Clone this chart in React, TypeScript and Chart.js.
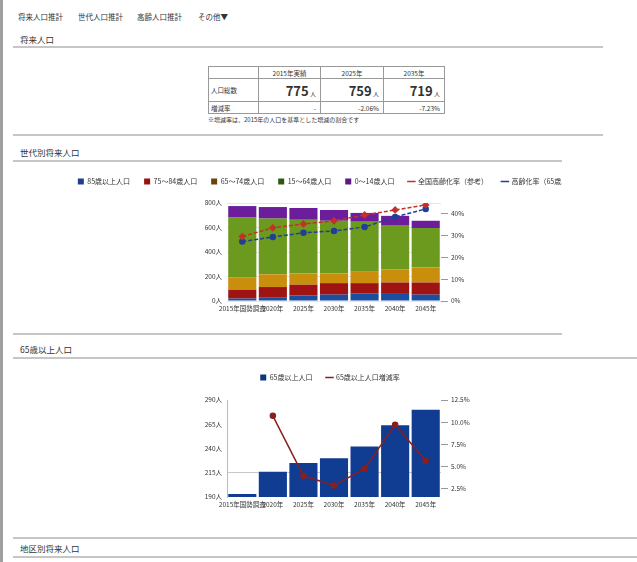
import React, { useEffect, useRef } from "react";
import { Chart, registerables } from "chart.js";

Chart.register(...registerables);

const FONT = "'Noto Sans CJK JP', 'Noto Sans', sans-serif";

const NAV_ITEMS = ["将来人口推計", "世代人口推計", "高齢人口推計", "その他▼"];
const SECTION_TITLES = ["将来人口", "世代別将来人口", "65歳以上人口", "地区別将来人口"];

const TABLE_HEADERS = ["2015年実績", "2025年", "2035年"];
const TABLE_POPULATION = [775, 759, 719];
const TABLE_RATES = ["-", "-2.06%", "-7.23%"];
const TABLE_NOTE = "※増減率は、2015年の人口を基準とした増減の割合です";

const YEARS = ["2015年国勢調査", "2020年", "2025年", "2030年", "2035年", "2040年", "2045年"];
const AGE_85_PLUS = [20, 31, 44, 52, 60, 58, 52];
const AGE_75_84 = [72, 83, 89, 94, 86, 93, 99];
const AGE_65_74 = [102, 104, 93, 80, 93, 108, 124];
const AGE_15_64 = [487, 455, 437, 429, 408, 361, 321];
const AGE_0_14 = [94, 94, 96, 88, 72, 75, 59];
const AGING_RATE_REF = [29.6, 33.6, 35.4, 36.8, 39.5, 41.8, 44.1];
const AGING_RATE = [27.3, 29.4, 31.3, 32.2, 34.0, 38.6, 42.3];
const POP_TICKS = [0, 200, 400, 600, 800];
const RATE_TICKS = [0, 10, 20, 30, 40];
const RATE_MAX = 45;

const ELDERLY = [193, 216, 225, 230, 242, 264, 280];
const ELDERLY_RATE = [null, 10.7, 3.9, 2.8, 4.7, 9.7, 5.6];
const ELDERLY_TICKS = [190, 215, 240, 265, 290];
const ELDERLY_RATE_TICKS = [2.5, 5, 7.5, 10, 12.5];
const ELDERLY_RATE_MIN = 1.5;

const BAR_COLORS = ["#1c4ea0", "#a01313", "#c98e0c", "#6b9a1e", "#6c1d9b"];
const LEGEND_COLORS = ["#1e3f8f", "#9a1010", "#6a430c", "#2d5a10", "#5a1a88"];

const CANVAS_LEFT = 30;
const CANVAS_W = 600;
const PLOT_LEFT = 227;
const PLOT_RIGHT = 441;

function legendLabels(legendColors: string[]) {
  return {
    usePointStyle: true,
    boxWidth: 6,
    boxHeight: 6,
    padding: 14,
    color: "#333",
    font: { family: FONT, size: 7 },
    sort: (a: any, b: any) => a.datasetIndex - b.datasetIndex,
    generateLabels: (chart: any) => {
      const base = (Chart.defaults as any).plugins.legend.labels.generateLabels(chart);
      return base.map((item: any) => {
        const ds = chart.data.datasets[item.datasetIndex];
        if (ds.type === "line") {
          item.pointStyle = "line";
          item.strokeStyle = ds.borderColor;
          item.lineWidth = 1.5;
        } else {
          item.pointStyle = "rect";
          item.fillStyle = legendColors[item.datasetIndex];
          item.lineWidth = 0;
        }
        return item;
      });
    },
  };
}

function legendGap(extra: number) {
  return {
    id: "legendGap",
    beforeInit(chart: any) {
      const orig = chart.legend.fit;
      chart.legend.fit = function () {
        orig.call(this);
        this.height += extra;
      };
    },
  };
}

const tickFont = { family: FONT, size: 6.5 };
const leftW = PLOT_LEFT - CANVAS_LEFT;
const rightW = CANVAS_LEFT + CANVAS_W - PLOT_RIGHT;

function StackChart() {
  const ref = useRef<HTMLCanvasElement>(null);
  useEffect(() => {
    const barSeries = [AGE_85_PLUS, AGE_75_84, AGE_65_74, AGE_15_64, AGE_0_14];
    const barNames = ["85歳以上人口", "75～84歳人口", "65～74歳人口", "15～64歳人口", "0～14歳人口"];
    const chart = new Chart(ref.current as HTMLCanvasElement, {
      type: "bar",
      data: {
        labels: YEARS,
        datasets: [
          ...barSeries.map((d, i) => ({
            type: "bar" as const,
            label: barNames[i],
            data: d,
            backgroundColor: BAR_COLORS[i],
            borderWidth: 0,
            yAxisID: "y",
            order: 1,
            categoryPercentage: 1,
            barPercentage: 0.92,
          })),
          {
            type: "line" as const,
            label: "全国高齢化率（参考）",
            data: AGING_RATE_REF,
            borderColor: "#c4302b",
            backgroundColor: "#c4302b",
            borderWidth: 1.5,
            borderDash: [4, 2],
            pointStyle: "rectRot",
            pointRadius: 2.8,
            yAxisID: "y1",
            order: 0,
          },
          {
            type: "line" as const,
            label: "高齢化率（65歳以上）",
            data: AGING_RATE,
            borderColor: "#1f3f99",
            backgroundColor: "#1f3f99",
            borderWidth: 1.5,
            borderDash: [4, 2],
            pointStyle: "circle",
            pointRadius: 2.5,
            yAxisID: "y1",
            order: 0,
          },
        ] as any,
      },
      options: {
        animation: false,
        responsive: false,
        layout: { padding: 0 },
        plugins: {
          legend: { position: "top", labels: legendLabels(LEGEND_COLORS) as any },
          tooltip: { enabled: false },
        },
        scales: {
          x: {
            stacked: true,
            grid: { display: false, drawTicks: false },
            border: { display: false },
            ticks: { font: tickFont, color: "#333", maxRotation: 0, autoSkip: false, padding: 4 },
            afterFit: (s: any) => { s.height = 16; },
          },
          y: {
            stacked: true,
            min: POP_TICKS[0],
            max: POP_TICKS[POP_TICKS.length - 1],
            afterBuildTicks: (s: any) => { s.ticks = POP_TICKS.map((v) => ({ value: v })); },
            grid: { color: "#e6e6e6", drawTicks: false },
            border: { display: false },
            ticks: { font: tickFont, color: "#333", padding: 5, callback: (v: any) => v + "人" },
            afterFit: (s: any) => { s.width = leftW; },
          },
          y1: {
            position: "right",
            min: 0,
            max: RATE_MAX,
            afterBuildTicks: (s: any) => { s.ticks = RATE_TICKS.map((v) => ({ value: v })); },
            grid: { drawOnChartArea: false, color: "#999", tickLength: 7 },
            border: { display: false },
            ticks: { font: tickFont, color: "#333", padding: 3, callback: (v: any) => v + "%" },
            afterFit: (s: any) => { s.width = rightW; },
          },
        },
      },
      plugins: [legendGap(8)],
    });
    return () => chart.destroy();
  }, []);
  return <canvas ref={ref} width={CANVAS_W} height={153} style={{ position: "absolute", left: CANVAS_LEFT, top: 0, width: CANVAS_W, height: 153 }} />;
}

function ElderlyChart() {
  const ref = useRef<HTMLCanvasElement>(null);
  useEffect(() => {
    const chart = new Chart(ref.current as HTMLCanvasElement, {
      type: "bar",
      data: {
        labels: YEARS,
        datasets: [
          {
            type: "bar" as const,
            label: "65歳以上人口",
            data: ELDERLY,
            backgroundColor: "#103c92",
            borderWidth: 0,
            yAxisID: "y",
            order: 1,
            categoryPercentage: 1,
            barPercentage: 0.92,
          },
          {
            type: "line" as const,
            label: "65歳以上人口増減率",
            data: ELDERLY_RATE,
            borderColor: "#8a1f1f",
            backgroundColor: "#8a1f1f",
            borderWidth: 1.5,
            pointStyle: "circle",
            pointRadius: 2.5,
            yAxisID: "y1",
            order: 0,
          },
        ] as any,
      },
      options: {
        animation: false,
        responsive: false,
        layout: { padding: 0 },
        plugins: {
          legend: { position: "top", labels: legendLabels(["#0f3580"]) as any },
          tooltip: { enabled: false },
        },
        scales: {
          x: {
            grid: { display: false, drawTicks: false },
            border: { display: false },
            ticks: { font: tickFont, color: "#333", maxRotation: 0, autoSkip: false, padding: 4 },
            afterFit: (s: any) => { s.height = 16; },
          },
          y: {
            min: ELDERLY_TICKS[0],
            max: ELDERLY_TICKS[ELDERLY_TICKS.length - 1],
            afterBuildTicks: (s: any) => { s.ticks = ELDERLY_TICKS.map((v) => ({ value: v })); },
            grid: {
              drawTicks: false,
              color: (c: any) => (c.tick && c.tick.value === ELDERLY_TICKS[1] ? "#c8c8c8" : "rgba(0,0,0,0)"),
            },
            border: { display: true, color: "#bbb" },
            ticks: { font: tickFont, color: "#333", padding: 5, callback: (v: any) => v + "人" },
            afterFit: (s: any) => { s.width = leftW; },
          },
          y1: {
            position: "right",
            min: ELDERLY_RATE_MIN,
            max: ELDERLY_RATE_TICKS[ELDERLY_RATE_TICKS.length - 1],
            afterBuildTicks: (s: any) => { s.ticks = ELDERLY_RATE_TICKS.map((v) => ({ value: v })); },
            grid: { drawOnChartArea: false, color: "#999", tickLength: 7 },
            border: { display: false },
            ticks: { font: tickFont, color: "#333", padding: 3, callback: (v: any) => Number(v).toFixed(1) + "%" },
            afterFit: (s: any) => { s.width = rightW; },
          },
        },
      },
      plugins: [legendGap(9)],
    });
    return () => chart.destroy();
  }, []);
  return <canvas ref={ref} width={CANVAS_W} height={153} style={{ position: "absolute", left: CANVAS_LEFT, top: 0, width: CANVAS_W, height: 153 }} />;
}

const hline = (y: number, x1: number, x2: number, h = 2) => (
  <div style={{ position: "absolute", left: x1, top: y, width: x2 - x1, height: h, background: "#c6c6c6" }} />
);

const textAt = (x: number, y: number, s: string, size: number, extra: any = {}) => (
  <div style={{ position: "absolute", left: x, top: y - size * 0.7, fontSize: size, lineHeight: `${size * 1.4}px`, color: "#333", whiteSpace: "nowrap", ...extra }}>{s}</div>
);

export default function App() {
  const navX = [18, 78, 137, 198];
  const cell: any = { border: "1px solid #999", padding: 0, fontSize: 6.5, color: "#333" };
  const colW = [50, 62, 63, 61];
  return (
    <div style={{ position: "absolute", left: 0, top: 0, width: 637, height: 562, overflow: "hidden", background: "#fff", fontFamily: FONT }}>
      <div style={{ position: "absolute", left: 0, top: 0, width: 3, height: 562, background: "#a0a0a0" }} />
      {NAV_ITEMS.map((s, i) => textAt(navX[i], 17, s, 7.5, { key: "n" + i }))}
      {textAt(20, 40, SECTION_TITLES[0], 8.5)}
      {hline(46, 13, 603)}
      <table style={{ position: "absolute", left: 208, top: 66, borderCollapse: "collapse", tableLayout: "fixed", width: 236, fontFamily: FONT }}>
        <colgroup>{colW.map((w, i) => <col key={i} style={{ width: w }} />)}</colgroup>
        <tbody>
          <tr style={{ height: 12 }}>
            <td style={cell}></td>
            {TABLE_HEADERS.map((h, i) => <td key={i} style={{ ...cell, textAlign: "center" }}>{h}</td>)}
          </tr>
          <tr style={{ height: 23 }}>
            <td style={{ ...cell, paddingLeft: 2 }}>人口総数</td>
            {TABLE_POPULATION.map((p, i) => (
              <td key={i} style={{ ...cell, textAlign: "right", paddingRight: 4 }}>
                <span style={{ fontSize: 13, fontWeight: 700 }}>{p}</span>
                <span style={{ fontSize: 6 }}> 人</span>
              </td>
            ))}
          </tr>
          <tr style={{ height: 12 }}>
            <td style={{ ...cell, paddingLeft: 2 }}>増減率</td>
            {TABLE_RATES.map((r, i) => <td key={i} style={{ ...cell, textAlign: "right", paddingRight: 4 }}>{r}</td>)}
          </tr>
        </tbody>
      </table>
      {textAt(208, 120, TABLE_NOTE, 6)}
      {hline(134, 13, 603)}
      {textAt(20, 153, SECTION_TITLES[1], 8.5)}
      {hline(160, 13, 562)}
      <div style={{ position: "absolute", left: 0, top: 164, width: 562, height: 153, overflow: "hidden" }}>
        <StackChart />
      </div>
      {hline(333, 13, 562)}
      {textAt(20, 350, SECTION_TITLES[2], 8.5)}
      {hline(357, 13, 637)}
      <div style={{ position: "absolute", left: 0, top: 360, width: 637, height: 153, overflow: "hidden" }}>
        <ElderlyChart />
      </div>
      {hline(537, 13, 637)}
      {textAt(20, 549, SECTION_TITLES[3], 8.5)}
      {hline(556, 13, 637)}
    </div>
  );
}
